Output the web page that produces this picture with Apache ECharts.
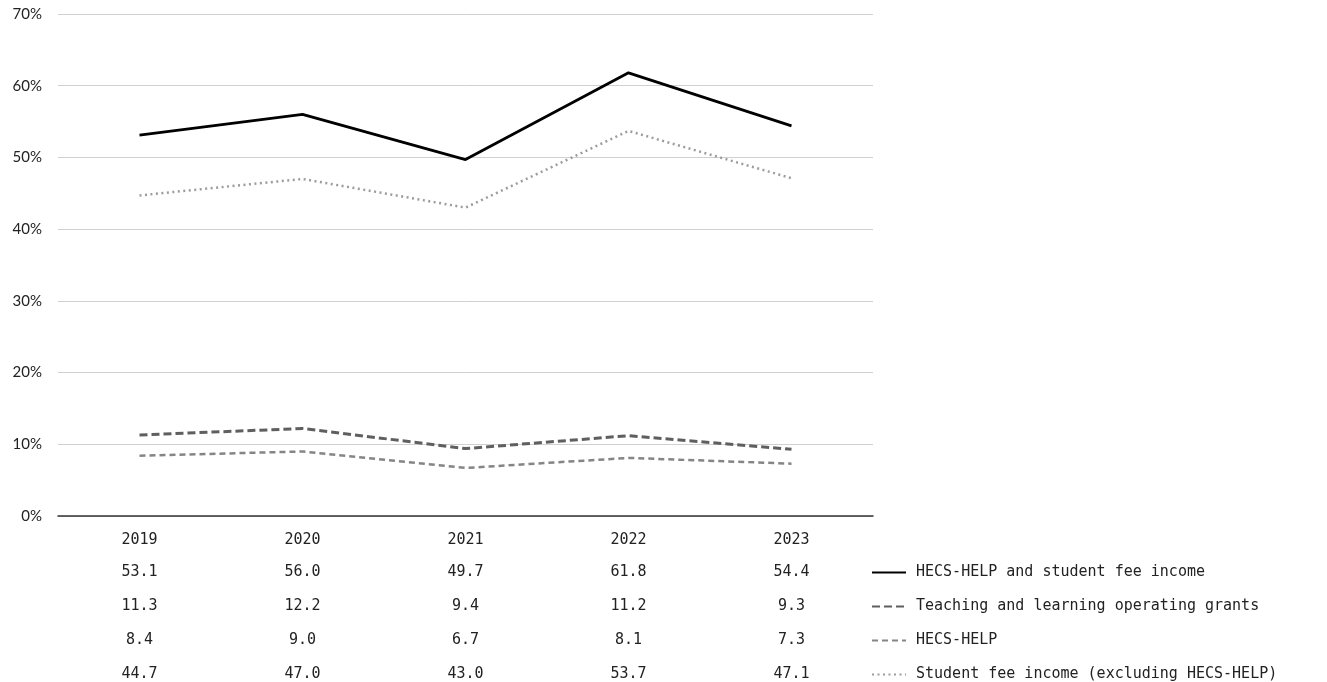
<!DOCTYPE html>
<html>
<head>
<meta charset="utf-8">
<script src="https://cdn.jsdelivr.net/npm/echarts@6/dist/echarts.min.js"></script>
<style>
  html, body { margin: 0; padding: 0; background: #fff; }
  #chart { width: 1327px; height: 682px; }
</style>
</head>
<body>
<div id="chart"></div>
<script>
// data
var years = ['2019', '2020', '2021', '2022', '2023'];
var seriesNames = [
  'HECS-HELP and student fee income',
  'Teaching and learning operating grants',
  'HECS-HELP',
  'Student fee income (excluding HECS-HELP)'
];
var hecsAndFees = [53.1, 56.0, 49.7, 61.8, 54.4];
var teachingGrants = [11.3, 12.2, 9.4, 11.2, 9.3];
var hecsHelp = [8.4, 9.0, 6.7, 8.1, 7.3];
var studentFees = [44.7, 47.0, 43.0, 53.7, 47.1];
var yTicks = [0, 10, 20, 30, 40, 50, 60, 70];

var allValues = [hecsAndFees, teachingGrants, hecsHelp, studentFees];
var colors = ['#000000', '#5f5f5f', '#858585', '#9c9c9c'];
var lineTypes = ['solid', [8, 4], [6, 4], [2, 3.5]];
var widths = [2.8, 3, 2.5, 2.5];

var mono = '"DejaVu Sans Mono", monospace';

var chart = echarts.init(document.getElementById('chart'));

// year axis + one hidden axis per series acting as the data table row
var xAxes = [{
  type: 'category',
  data: years,
  gridIndex: 0,
  position: 'bottom',
  axisLine: { show: true, lineStyle: { color: '#333', width: 1.5 } },
  axisTick: { show: false },
  axisLabel: { fontFamily: mono, fontSize: 15, color: '#222', margin: 17 }
}];
allValues.forEach(function (vals, i) {
  xAxes.push({
    type: 'category',
    data: vals.map(function (v) { return v.toFixed(1); }),
    gridIndex: 0,
    position: 'bottom',
    offset: 33 + i * 34,
    axisLine: { show: false },
    axisTick: { show: false },
    splitLine: { show: false },
    axisLabel: { fontFamily: mono, fontSize: 15, color: '#222', margin: 16 }
  });
});

var series = allValues.map(function (vals, i) {
  return {
    name: seriesNames[i],
    type: 'line',
    xAxisIndex: 0,
    data: vals,
    symbol: 'none',
    lineStyle: { color: colors[i], width: widths[i], type: lineTypes[i] },
    itemStyle: { color: colors[i], opacity: 0 },
    z: 10 - i
  };
});

chart.setOption({
  animation: false,
  grid: { left: 58, right: 454, top: 14, bottom: 165 },
  legend: {
    orient: 'vertical',
    left: 866,
    top: 560,
    height: 200,
    itemGap: 19,
    itemWidth: 34,
    itemHeight: 14,
    data: seriesNames,
    textStyle: { fontFamily: mono, fontSize: 15, color: '#222', padding: [0, 0, 0, 5] }
  },
  xAxis: xAxes,
  yAxis: {
    type: 'value',
    min: 0,
    max: 70,
    interval: 10,
    axisLine: { show: false },
    axisTick: { show: false },
    splitLine: { lineStyle: { color: '#d0d0d0', width: 1 } },
    axisLabel: {
      fontFamily: 'Lato, sans-serif',
      fontSize: 15,
      color: '#222',
      margin: 16,
      formatter: function (v) { return yTicks.indexOf(v) >= 0 ? v + '%' : ''; }
    }
  },
  series: series
});
</script>
</body>
</html>
